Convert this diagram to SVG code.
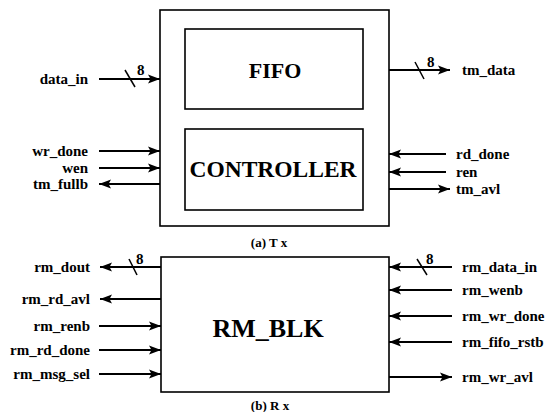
<svg xmlns="http://www.w3.org/2000/svg" width="547" height="412" viewBox="0 0 547 412">
<defs>
<marker id="ah" viewBox="0 0 12 10" refX="12" refY="5" markerWidth="12" markerHeight="10" markerUnits="userSpaceOnUse" orient="auto">
<path d="M0,0.5 L12,5 L0,9.5 L2.5,5 Z" fill="#000"/>
</marker>
<style>
text{font-family:"Liberation Serif","Times New Roman",serif;font-weight:bold;fill:#000}
.lb{font-size:15px}
.l{text-anchor:end}
.big{font-size:22px;text-anchor:middle}
.cap{font-size:13px;text-anchor:middle}
.box{fill:#fff;stroke:#000;stroke-width:1.6}
.w{stroke:#000;stroke-width:1.8;fill:none;marker-end:url(#ah)}
.s{stroke:#000;stroke-width:1.5}
</style>
</defs>
<rect width="547" height="412" fill="#fff"/>
<g id="tx">
<rect class="box" x="160" y="10" width="229" height="216"/>
</g>
<g id="fifo">
<rect class="box" x="185" y="29" width="178" height="80"/>
<text class="big" x="275" y="78">FIFO</text>
</g>
<g id="controller">
<rect class="box" x="185" y="129" width="178" height="81"/>
<text class="big" x="273" y="177" style="font-size:23.5px">CONTROLLER</text>
</g>
<g id="rmblk">
<rect class="box" x="161" y="257" width="228" height="135"/>
<text class="big" x="268" y="337" style="font-size:26px">RM_BLK</text>
</g>
<g id="connectors">
<line class="w" x1="99" y1="79" x2="160" y2="79"/>
<line class="s" x1="125" y1="70" x2="135" y2="87"/>
<line class="w" x1="99" y1="151" x2="160" y2="151"/>
<line class="w" x1="99" y1="168" x2="160" y2="168"/>
<line class="w" x1="160" y1="184" x2="99" y2="184"/>
<line class="w" x1="389" y1="70" x2="450" y2="70"/>
<line class="s" x1="415" y1="62" x2="424" y2="79"/>
<line class="w" x1="446" y1="154" x2="389" y2="154"/>
<line class="w" x1="446" y1="172" x2="389" y2="172"/>
<line class="w" x1="389" y1="189" x2="450" y2="189"/>
<line class="w" x1="161" y1="267" x2="100" y2="267"/>
<line class="s" x1="129" y1="259" x2="137" y2="275"/>
<line class="w" x1="161" y1="299" x2="100" y2="299"/>
<line class="w" x1="99" y1="326" x2="161" y2="326"/>
<line class="w" x1="99" y1="350" x2="161" y2="350"/>
<line class="w" x1="99" y1="374" x2="161" y2="374"/>
<line class="w" x1="452" y1="267" x2="389" y2="267"/>
<line class="s" x1="417" y1="259" x2="427" y2="275"/>
<line class="w" x1="452" y1="290" x2="389" y2="290"/>
<line class="w" x1="452" y1="316" x2="389" y2="316"/>
<line class="w" x1="452" y1="342" x2="389" y2="342"/>
<line class="w" x1="389" y1="377" x2="452" y2="377"/>
</g>
<g id="labels">
<text class="lb" x="137" y="75">8</text>
<text class="lb" x="427" y="67">8</text>
<text class="lb" x="136" y="264">8</text>
<text class="lb" x="426" y="264">8</text>
<text class="lb l" x="88" y="84">data_in</text>
<text class="lb l" x="88" y="156">wr_done</text>
<text class="lb l" x="88" y="173">wen</text>
<text class="lb l" x="88" y="189">tm_fullb</text>
<text class="lb" x="462" y="75">tm_data</text>
<text class="lb" x="456" y="159">rd_done</text>
<text class="lb" x="456" y="177">ren</text>
<text class="lb" x="456" y="194">tm_avl</text>
<text class="cap" x="269" y="247">(a) T x</text>
<text class="lb l" x="90" y="272">rm_dout</text>
<text class="lb l" x="90" y="304">rm_rd_avl</text>
<text class="lb l" x="90" y="331">rm_renb</text>
<text class="lb l" x="90" y="355">rm_rd_done</text>
<text class="lb l" x="90" y="379">rm_msg_sel</text>
<text class="lb" x="462" y="272">rm_data_in</text>
<text class="lb" x="462" y="295">rm_wenb</text>
<text class="lb" x="462" y="321">rm_wr_done</text>
<text class="lb" x="462" y="347">rm_fifo_rstb</text>
<text class="lb" x="462" y="382">rm_wr_avl</text>
<text class="cap" x="270" y="410">(b) R x</text>
</g>
</svg>
